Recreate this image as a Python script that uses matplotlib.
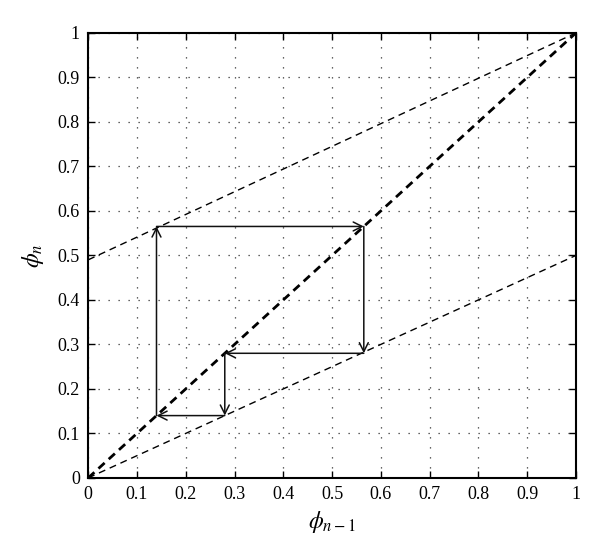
import numpy as np
import matplotlib.pyplot as plt

plt.rcParams['font.family'] = ['Liberation Serif', 'DejaVu Serif']
plt.rcParams['mathtext.fontset'] = 'stix'

# dashed reference lines (end points)
diag_x = [0, 1]
diag_y = [0, 1]
upper_x = [0, 1]
upper_y = [0.49, 1]
lower_x = [0, 1]
lower_y = [0, 0.5]

# cobweb path: arrows go from point i to point i+1
web_x = [0.14, 0.14, 0.565, 0.565, 0.28, 0.28, 0.14]
web_y = [0.14, 0.565, 0.565, 0.28, 0.28, 0.14, 0.14]

ticks = np.round(np.arange(0, 1.01, 0.1), 1)
tick_labels = ['0', '0.1', '0.2', '0.3', '0.4', '0.5', '0.6', '0.7', '0.8', '0.9', '1']

fig = plt.figure(figsize=(6, 5.57), dpi=100)
ax = fig.add_axes([0.147, 0.142, 0.813, 0.799])

ax.plot(upper_x, upper_y, 'k--', lw=1.0, dashes=(5, 3.5))
ax.plot(lower_x, lower_y, 'k--', lw=1.0, dashes=(5, 3.5))
ax.plot(diag_x, diag_y, 'k--', lw=2.0, dashes=(3, 2))

for i in range(len(web_x) - 1):
    ax.annotate('', xy=(web_x[i + 1], web_y[i + 1]), xytext=(web_x[i], web_y[i]),
                arrowprops=dict(arrowstyle='->', color='#111111', lw=1.1,
                                shrinkA=0, shrinkB=0, mutation_scale=16))

ax.set_xlim(0, 1)
ax.set_ylim(0, 1)
ax.set_xticks(ticks)
ax.set_yticks(ticks)
ax.set_xticklabels(tick_labels)
ax.set_yticklabels(tick_labels)
ax.tick_params(direction='in', length=5, width=1, labelsize=13, top=True, right=True, pad=6)
ax.grid(True, color='#333333', linestyle=(0, (1, 7)), lw=0.9)
for s in ax.spines.values():
    s.set_linewidth(1.5)

ax.set_xlabel(r'$\phi_{n-1}$', fontsize=17, labelpad=4)
ax.set_ylabel(r'$\phi_n$', fontsize=17, labelpad=8)

fig.savefig('out.png', dpi=100)
